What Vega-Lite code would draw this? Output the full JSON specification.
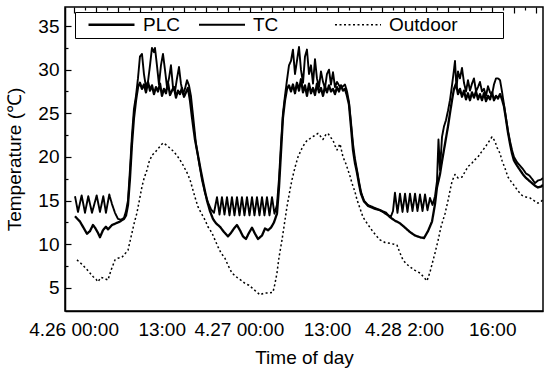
{
  "$schema": "https://vega.github.io/schema/vega-lite/v6.json",
  "width": 478,
  "height": 304,
  "autosize": {"type": "none"},
  "padding": {"left": 65, "top": 7, "right": 7, "bottom": 57},
  "background": "white",
  "config": {
    "font": "Liberation Sans",
    "view": {"stroke": "black", "strokeWidth": 1.5},
    "axis": {"domainColor": "black", "domainWidth": 1.5, "tickColor": "black", "labelColor": "black", "titleColor": "black", "labelFont": "Liberation Sans", "titleFont": "Liberation Sans", "labelFontSize": 19, "titleFontSize": 19, "titleFontWeight": "normal", "gridColor": "black", "gridWidth": 1.2, "gridOpacity": 1}
  },
  "data": {"values": [
    {"s":"PLC","t":0.21,"v":13.2},{"s":"PLC","t":0.94,"v":12.6},{"s":"PLC","t":1.53,"v":11.8},{"s":"PLC","t":1.97,"v":11.2},{"s":"PLC","t":2.41,"v":11.5},{"s":"PLC","t":2.85,"v":12.2},{"s":"PLC","t":3.15,"v":11.9},{"s":"PLC","t":3.59,"v":11.3},{"s":"PLC","t":3.88,"v":10.8},{"s":"PLC","t":4.32,"v":11.6},{"s":"PLC","t":4.76,"v":12.0},{"s":"PLC","t":5.06,"v":11.7},{"s":"PLC","t":5.65,"v":12.2},{"s":"PLC","t":6.24,"v":12.4},{"s":"PLC","t":6.82,"v":12.6},{"s":"PLC","t":7.41,"v":12.9},{"s":"PLC","t":7.71,"v":13.3},{"s":"PLC","t":8.0,"v":14.5},{"s":"PLC","t":8.29,"v":17.5},{"s":"PLC","t":8.59,"v":21.5},{"s":"PLC","t":8.88,"v":24.5},{"s":"PLC","t":9.18,"v":26.5},{"s":"PLC","t":9.47,"v":28.0},{"s":"PLC","t":9.76,"v":28.5},
    {"s":"PLC","t":10.06,"v":27.8},{"s":"PLC","t":10.35,"v":28.3},{"s":"PLC","t":10.65,"v":27.4},{"s":"PLC","t":10.94,"v":28.6},{"s":"PLC","t":11.24,"v":27.6},{"s":"PLC","t":11.53,"v":28.2},{"s":"PLC","t":11.82,"v":27.2},{"s":"PLC","t":12.12,"v":28.0},{"s":"PLC","t":12.41,"v":27.5},{"s":"PLC","t":12.71,"v":28.4},{"s":"PLC","t":13.0,"v":27.0},{"s":"PLC","t":13.29,"v":27.8},{"s":"PLC","t":13.59,"v":27.3},{"s":"PLC","t":13.88,"v":28.5},{"s":"PLC","t":14.18,"v":27.1},{"s":"PLC","t":14.47,"v":27.6},{"s":"PLC","t":14.76,"v":28.0},{"s":"PLC","t":15.06,"v":26.8},{"s":"PLC","t":15.35,"v":27.6},{"s":"PLC","t":15.65,"v":27.2},{"s":"PLC","t":15.94,"v":27.9},{"s":"PLC","t":16.24,"v":26.9},{"s":"PLC","t":16.53,"v":27.4},{"s":"PLC","t":16.82,"v":27.9},{"s":"PLC","t":17.12,"v":26.5},{"s":"PLC","t":17.41,"v":24.6},{"s":"PLC","t":17.85,"v":22.0},{"s":"PLC","t":18.29,"v":20.2},{"s":"PLC","t":18.74,"v":18.3},{"s":"PLC","t":19.18,"v":16.6},{"s":"PLC","t":19.62,"v":15.0},{"s":"PLC","t":20.06,"v":13.8},{"s":"PLC","t":20.5,"v":12.9},{"s":"PLC","t":20.94,"v":12.4},
    {"s":"PLC","t":21.53,"v":12.0},{"s":"PLC","t":22.12,"v":11.4},{"s":"PLC","t":22.71,"v":10.9},{"s":"PLC","t":23.15,"v":11.3},{"s":"PLC","t":23.59,"v":11.8},{"s":"PLC","t":24.03,"v":12.2},{"s":"PLC","t":24.47,"v":11.6},{"s":"PLC","t":24.91,"v":10.9},{"s":"PLC","t":25.35,"v":10.6},{"s":"PLC","t":25.79,"v":11.3},{"s":"PLC","t":26.24,"v":11.9},{"s":"PLC","t":26.68,"v":11.2},{"s":"PLC","t":27.12,"v":10.6},{"s":"PLC","t":27.71,"v":11.0},{"s":"PLC","t":28.15,"v":11.8},{"s":"PLC","t":28.59,"v":11.6},{"s":"PLC","t":29.03,"v":11.9},{"s":"PLC","t":29.47,"v":12.5},{"s":"PLC","t":29.91,"v":13.5},{"s":"PLC","t":30.21,"v":16.5},{"s":"PLC","t":30.5,"v":20.5},{"s":"PLC","t":30.79,"v":24.5},{"s":"PLC","t":31.09,"v":26.5},{"s":"PLC","t":31.38,"v":27.8},{"s":"PLC","t":31.68,"v":28.2},
    {"s":"PLC","t":31.97,"v":27.5},{"s":"PLC","t":32.26,"v":28.3},{"s":"PLC","t":32.56,"v":27.3},{"s":"PLC","t":32.85,"v":28.5},{"s":"PLC","t":33.15,"v":27.6},{"s":"PLC","t":33.44,"v":28.9},{"s":"PLC","t":33.74,"v":27.4},{"s":"PLC","t":34.03,"v":28.2},{"s":"PLC","t":34.32,"v":27.0},{"s":"PLC","t":34.62,"v":28.4},{"s":"PLC","t":34.91,"v":27.3},{"s":"PLC","t":35.21,"v":27.9},{"s":"PLC","t":35.5,"v":27.1},{"s":"PLC","t":35.79,"v":28.4},{"s":"PLC","t":36.09,"v":27.4},{"s":"PLC","t":36.38,"v":27.9},{"s":"PLC","t":36.68,"v":27.0},{"s":"PLC","t":36.97,"v":28.1},{"s":"PLC","t":37.26,"v":27.4},{"s":"PLC","t":37.56,"v":28.2},{"s":"PLC","t":37.85,"v":27.5},{"s":"PLC","t":38.15,"v":27.8},{"s":"PLC","t":38.44,"v":27.2},{"s":"PLC","t":38.74,"v":28.0},{"s":"PLC","t":39.03,"v":27.5},{"s":"PLC","t":39.32,"v":28.2},{"s":"PLC","t":39.62,"v":27.6},{"s":"PLC","t":39.91,"v":27.8},{"s":"PLC","t":40.21,"v":27.0},{"s":"PLC","t":40.5,"v":26.0},{"s":"PLC","t":40.79,"v":23.5},{"s":"PLC","t":41.09,"v":20.8},{"s":"PLC","t":41.38,"v":19.3},{"s":"PLC","t":41.68,"v":18.2},{"s":"PLC","t":41.97,"v":16.9},{"s":"PLC","t":42.26,"v":15.8},{"s":"PLC","t":42.71,"v":14.9},{"s":"PLC","t":43.29,"v":14.4},{"s":"PLC","t":44.18,"v":14.1},{"s":"PLC","t":45.06,"v":13.9},{"s":"PLC","t":45.94,"v":13.6},{"s":"PLC","t":46.53,"v":13.1},{"s":"PLC","t":47.26,"v":12.7},{"s":"PLC","t":48.0,"v":12.4},{"s":"PLC","t":48.74,"v":11.9},{"s":"PLC","t":49.47,"v":11.4},{"s":"PLC","t":50.21,"v":11.0},{"s":"PLC","t":50.94,"v":10.8},{"s":"PLC","t":51.53,"v":10.7},{"s":"PLC","t":52.12,"v":11.5},{"s":"PLC","t":52.71,"v":12.6},{"s":"PLC","t":53.15,"v":14.6},{"s":"PLC","t":53.44,"v":16.5},{"s":"PLC","t":53.88,"v":18.0},{"s":"PLC","t":54.18,"v":19.5},{"s":"PLC","t":54.62,"v":21.5},{"s":"PLC","t":55.06,"v":23.5},{"s":"PLC","t":55.35,"v":25.0},{"s":"PLC","t":55.65,"v":26.5},{"s":"PLC","t":55.94,"v":27.8},{"s":"PLC","t":56.24,"v":28.4},
    {"s":"PLC","t":56.53,"v":27.2},{"s":"PLC","t":56.82,"v":27.8},{"s":"PLC","t":57.12,"v":26.9},{"s":"PLC","t":57.41,"v":27.6},{"s":"PLC","t":57.71,"v":26.6},{"s":"PLC","t":58.0,"v":27.3},{"s":"PLC","t":58.29,"v":26.5},{"s":"PLC","t":58.59,"v":27.4},{"s":"PLC","t":58.88,"v":26.8},{"s":"PLC","t":59.18,"v":27.5},{"s":"PLC","t":59.47,"v":26.6},{"s":"PLC","t":59.76,"v":27.2},{"s":"PLC","t":60.06,"v":26.5},{"s":"PLC","t":60.35,"v":27.3},{"s":"PLC","t":60.65,"v":26.4},{"s":"PLC","t":60.94,"v":27.0},{"s":"PLC","t":61.24,"v":26.6},{"s":"PLC","t":61.53,"v":27.4},{"s":"PLC","t":61.82,"v":26.5},{"s":"PLC","t":62.12,"v":27.0},{"s":"PLC","t":62.41,"v":26.7},{"s":"PLC","t":62.71,"v":27.2},{"s":"PLC","t":63.0,"v":26.6},{"s":"PLC","t":63.29,"v":25.8},{"s":"PLC","t":63.59,"v":24.3},{"s":"PLC","t":63.88,"v":22.8},{"s":"PLC","t":64.18,"v":21.5},{"s":"PLC","t":64.47,"v":20.4},{"s":"PLC","t":64.76,"v":19.6},{"s":"PLC","t":65.21,"v":19.0},{"s":"PLC","t":65.65,"v":18.5},{"s":"PLC","t":66.09,"v":18.0},{"s":"PLC","t":66.53,"v":17.6},{"s":"PLC","t":66.97,"v":17.3},{"s":"PLC","t":67.41,"v":17.0},{"s":"PLC","t":67.85,"v":16.7},{"s":"PLC","t":68.29,"v":16.5},{"s":"PLC","t":68.74,"v":16.6},{"s":"PLC","t":69.03,"v":16.8},

    {"s":"TC","t":0.21,"v":15.5},{"s":"TC","t":0.65,"v":13.7},{"s":"TC","t":1.19,"v":15.6},{"s":"TC","t":1.68,"v":13.6},{"s":"TC","t":2.16,"v":15.5},{"s":"TC","t":2.71,"v":13.6},{"s":"TC","t":3.4,"v":15.6},{"s":"TC","t":3.88,"v":13.7},{"s":"TC","t":4.37,"v":15.5},{"s":"TC","t":4.76,"v":13.6},{"s":"TC","t":5.25,"v":15.7},{"s":"TC","t":5.65,"v":14.6},{"s":"TC","t":6.09,"v":13.6},{"s":"TC","t":6.53,"v":12.9},{"s":"TC","t":6.97,"v":12.8},{"s":"TC","t":7.41,"v":13.0},{"s":"TC","t":7.71,"v":13.8},{"s":"TC","t":8.0,"v":15.0},{"s":"TC","t":8.29,"v":18.5},{"s":"TC","t":8.59,"v":22.5},{"s":"TC","t":8.88,"v":25.5},{"s":"TC","t":9.18,"v":27.0},
    {"s":"TC","t":9.47,"v":29.0},{"s":"TC","t":9.76,"v":31.5},{"s":"TC","t":10.06,"v":31.8},{"s":"TC","t":10.35,"v":29.5},{"s":"TC","t":10.65,"v":28.0},{"s":"TC","t":10.94,"v":28.6},{"s":"TC","t":11.24,"v":30.5},{"s":"TC","t":11.53,"v":32.5},{"s":"TC","t":11.82,"v":32.0},{"s":"TC","t":11.97,"v":32.5},{"s":"TC","t":12.26,"v":30.5},{"s":"TC","t":12.56,"v":28.3},{"s":"TC","t":12.85,"v":30.5},{"s":"TC","t":13.15,"v":31.8},{"s":"TC","t":13.44,"v":30.0},{"s":"TC","t":13.74,"v":28.0},{"s":"TC","t":14.03,"v":29.0},{"s":"TC","t":14.32,"v":30.5},{"s":"TC","t":14.62,"v":28.0},{"s":"TC","t":14.91,"v":27.5},{"s":"TC","t":15.21,"v":29.0},{"s":"TC","t":15.5,"v":30.3},{"s":"TC","t":15.79,"v":28.4},{"s":"TC","t":16.09,"v":27.2},{"s":"TC","t":16.38,"v":27.8},{"s":"TC","t":16.68,"v":28.8},{"s":"TC","t":16.97,"v":28.2},{"s":"TC","t":17.26,"v":27.0},{"s":"TC","t":17.56,"v":24.8},{"s":"TC","t":18.0,"v":21.5},{"s":"TC","t":18.44,"v":19.4},{"s":"TC","t":18.88,"v":17.4},{"s":"TC","t":19.32,"v":15.9},{"s":"TC","t":19.76,"v":14.8},{"s":"TC","t":20.21,"v":14.0},
    {"s":"TC","t":20.65,"v":13.6},{"s":"TC","t":21.09,"v":15.4},{"s":"TC","t":21.46,"v":13.4},{"s":"TC","t":21.82,"v":15.4},{"s":"TC","t":22.19,"v":13.4},{"s":"TC","t":22.56,"v":15.4},{"s":"TC","t":22.93,"v":13.3},{"s":"TC","t":23.29,"v":15.4},{"s":"TC","t":23.66,"v":13.3},{"s":"TC","t":24.03,"v":15.4},{"s":"TC","t":24.4,"v":13.3},{"s":"TC","t":24.76,"v":15.4},{"s":"TC","t":25.13,"v":13.3},{"s":"TC","t":25.5,"v":15.4},{"s":"TC","t":25.87,"v":13.3},{"s":"TC","t":26.24,"v":15.4},{"s":"TC","t":26.6,"v":13.3},{"s":"TC","t":26.97,"v":15.4},{"s":"TC","t":27.34,"v":13.3},{"s":"TC","t":27.71,"v":15.4},{"s":"TC","t":28.07,"v":13.3},{"s":"TC","t":28.44,"v":15.4},{"s":"TC","t":28.81,"v":13.3},{"s":"TC","t":29.18,"v":15.4},{"s":"TC","t":29.54,"v":13.5},{"s":"TC","t":29.91,"v":14.5},{"s":"TC","t":30.21,"v":17.5},{"s":"TC","t":30.5,"v":21.5},{"s":"TC","t":30.79,"v":25.0},{"s":"TC","t":31.09,"v":27.0},{"s":"TC","t":31.38,"v":28.8},{"s":"TC","t":31.68,"v":30.5},
    {"s":"TC","t":31.97,"v":31.0},{"s":"TC","t":32.26,"v":32.3},{"s":"TC","t":32.56,"v":29.5},{"s":"TC","t":32.85,"v":31.0},{"s":"TC","t":33.15,"v":32.6},{"s":"TC","t":33.44,"v":30.0},{"s":"TC","t":33.74,"v":28.5},{"s":"TC","t":34.03,"v":31.5},{"s":"TC","t":34.32,"v":32.3},{"s":"TC","t":34.62,"v":29.5},{"s":"TC","t":34.91,"v":30.5},{"s":"TC","t":35.21,"v":28.4},{"s":"TC","t":35.5,"v":31.2},{"s":"TC","t":35.79,"v":29.0},{"s":"TC","t":36.09,"v":28.0},{"s":"TC","t":36.38,"v":29.8},{"s":"TC","t":36.68,"v":28.6},{"s":"TC","t":36.97,"v":27.9},{"s":"TC","t":37.26,"v":29.5},{"s":"TC","t":37.56,"v":30.0},{"s":"TC","t":37.85,"v":28.3},{"s":"TC","t":38.15,"v":29.7},{"s":"TC","t":38.44,"v":28.0},{"s":"TC","t":38.74,"v":28.6},{"s":"TC","t":39.03,"v":28.2},{"s":"TC","t":39.32,"v":27.9},{"s":"TC","t":39.62,"v":28.1},{"s":"TC","t":39.91,"v":28.3},{"s":"TC","t":40.21,"v":27.5},{"s":"TC","t":40.5,"v":26.3},{"s":"TC","t":40.79,"v":24.0},{"s":"TC","t":41.09,"v":21.5},{"s":"TC","t":41.38,"v":19.8},{"s":"TC","t":41.68,"v":18.5},{"s":"TC","t":41.97,"v":17.2},{"s":"TC","t":42.26,"v":16.0},{"s":"TC","t":42.71,"v":15.0},{"s":"TC","t":43.29,"v":14.5},{"s":"TC","t":44.18,"v":14.2},{"s":"TC","t":45.06,"v":13.9},{"s":"TC","t":45.65,"v":13.6},{"s":"TC","t":46.24,"v":13.3},{"s":"TC","t":46.68,"v":13.2},
    {"s":"TC","t":46.97,"v":13.8},{"s":"TC","t":47.26,"v":15.9},{"s":"TC","t":47.63,"v":13.6},{"s":"TC","t":48.0,"v":15.8},{"s":"TC","t":48.37,"v":13.7},{"s":"TC","t":48.74,"v":15.8},{"s":"TC","t":49.1,"v":13.7},{"s":"TC","t":49.47,"v":15.8},{"s":"TC","t":49.84,"v":13.8},{"s":"TC","t":50.21,"v":15.8},{"s":"TC","t":50.57,"v":13.8},{"s":"TC","t":50.94,"v":15.7},{"s":"TC","t":51.31,"v":13.8},{"s":"TC","t":51.68,"v":15.7},{"s":"TC","t":52.04,"v":13.9},{"s":"TC","t":52.41,"v":15.3},{"s":"TC","t":52.78,"v":14.5},{"s":"TC","t":53.15,"v":15.5},{"s":"TC","t":53.44,"v":17.2},{"s":"TC","t":53.66,"v":22.0},{"s":"TC","t":53.88,"v":18.5},{"s":"TC","t":54.18,"v":22.3},{"s":"TC","t":54.47,"v":23.5},{"s":"TC","t":54.76,"v":24.2},{"s":"TC","t":55.06,"v":25.3},{"s":"TC","t":55.35,"v":26.5},{"s":"TC","t":55.65,"v":28.2},{"s":"TC","t":55.94,"v":30.0},{"s":"TC","t":56.09,"v":31.0},{"s":"TC","t":56.31,"v":27.8},{"s":"TC","t":56.53,"v":29.8},{"s":"TC","t":56.82,"v":29.0},{"s":"TC","t":57.12,"v":30.2},{"s":"TC","t":57.41,"v":28.5},{"s":"TC","t":57.71,"v":27.5},{"s":"TC","t":58.0,"v":28.8},{"s":"TC","t":58.29,"v":27.6},{"s":"TC","t":58.59,"v":28.4},{"s":"TC","t":58.88,"v":29.0},{"s":"TC","t":59.18,"v":27.5},{"s":"TC","t":59.47,"v":28.0},{"s":"TC","t":59.76,"v":28.6},{"s":"TC","t":60.06,"v":27.5},{"s":"TC","t":60.35,"v":27.8},{"s":"TC","t":60.65,"v":27.0},{"s":"TC","t":60.94,"v":28.1},{"s":"TC","t":61.24,"v":27.4},{"s":"TC","t":61.53,"v":27.1},{"s":"TC","t":61.82,"v":28.3},{"s":"TC","t":62.12,"v":29.0},{"s":"TC","t":62.41,"v":29.0},{"s":"TC","t":62.71,"v":28.8},{"s":"TC","t":63.0,"v":27.5},{"s":"TC","t":63.29,"v":26.0},{"s":"TC","t":63.59,"v":24.5},{"s":"TC","t":63.88,"v":23.0},{"s":"TC","t":64.18,"v":21.8},{"s":"TC","t":64.47,"v":20.8},{"s":"TC","t":64.76,"v":20.0},{"s":"TC","t":65.21,"v":19.4},{"s":"TC","t":65.65,"v":19.0},{"s":"TC","t":66.09,"v":18.6},{"s":"TC","t":66.53,"v":18.1},{"s":"TC","t":66.97,"v":17.9},{"s":"TC","t":67.41,"v":17.5},{"s":"TC","t":67.85,"v":17.0},{"s":"TC","t":68.29,"v":17.3},{"s":"TC","t":68.74,"v":17.4},{"s":"TC","t":69.03,"v":17.6},

    {"s":"Outdoor","t":0.5,"v":8.2},{"s":"Outdoor","t":1.24,"v":7.7},{"s":"Outdoor","t":1.97,"v":7.1},{"s":"Outdoor","t":2.41,"v":6.7},{"s":"Outdoor","t":2.85,"v":6.3},{"s":"Outdoor","t":3.29,"v":6.0},{"s":"Outdoor","t":3.59,"v":5.7},{"s":"Outdoor","t":4.03,"v":6.2},{"s":"Outdoor","t":4.47,"v":6.1},{"s":"Outdoor","t":5.06,"v":5.9},{"s":"Outdoor","t":5.5,"v":7.0},{"s":"Outdoor","t":6.09,"v":8.2},{"s":"Outdoor","t":6.53,"v":8.4},{"s":"Outdoor","t":7.12,"v":8.5},{"s":"Outdoor","t":7.56,"v":8.9},{"s":"Outdoor","t":8.0,"v":9.3},{"s":"Outdoor","t":8.29,"v":10.3},{"s":"Outdoor","t":8.59,"v":11.3},{"s":"Outdoor","t":8.88,"v":12.3},{"s":"Outdoor","t":9.32,"v":13.6},{"s":"Outdoor","t":9.62,"v":14.8},{"s":"Outdoor","t":10.06,"v":16.6},{"s":"Outdoor","t":10.35,"v":17.5},{"s":"Outdoor","t":10.79,"v":18.5},{"s":"Outdoor","t":11.09,"v":19.4},{"s":"Outdoor","t":11.53,"v":20.2},{"s":"Outdoor","t":11.97,"v":20.5},{"s":"Outdoor","t":12.26,"v":20.8},{"s":"Outdoor","t":12.71,"v":21.2},{"s":"Outdoor","t":13.15,"v":21.6},{"s":"Outdoor","t":13.59,"v":21.4},{"s":"Outdoor","t":14.18,"v":21.0},{"s":"Outdoor","t":14.76,"v":20.6},{"s":"Outdoor","t":15.35,"v":20.0},{"s":"Outdoor","t":15.94,"v":19.3},{"s":"Outdoor","t":16.68,"v":18.2},{"s":"Outdoor","t":17.12,"v":17.4},{"s":"Outdoor","t":17.41,"v":16.6},{"s":"Outdoor","t":17.85,"v":15.4},{"s":"Outdoor","t":18.29,"v":14.3},{"s":"Outdoor","t":18.74,"v":13.6},{"s":"Outdoor","t":19.32,"v":12.8},{"s":"Outdoor","t":19.76,"v":12.0},{"s":"Outdoor","t":20.35,"v":11.3},{"s":"Outdoor","t":20.79,"v":10.5},{"s":"Outdoor","t":21.24,"v":9.7},{"s":"Outdoor","t":21.68,"v":9.0},{"s":"Outdoor","t":22.26,"v":8.4},{"s":"Outdoor","t":22.71,"v":7.6},{"s":"Outdoor","t":23.29,"v":6.7},{"s":"Outdoor","t":23.74,"v":6.4},{"s":"Outdoor","t":24.18,"v":6.1},{"s":"Outdoor","t":24.76,"v":5.8},{"s":"Outdoor","t":25.21,"v":5.5},{"s":"Outdoor","t":25.79,"v":5.3},{"s":"Outdoor","t":26.24,"v":5.0},{"s":"Outdoor","t":26.82,"v":4.6},{"s":"Outdoor","t":27.41,"v":4.2},{"s":"Outdoor","t":28.0,"v":4.4},{"s":"Outdoor","t":28.59,"v":4.4},{"s":"Outdoor","t":29.32,"v":4.5},{"s":"Outdoor","t":29.62,"v":5.5},{"s":"Outdoor","t":29.91,"v":6.7},{"s":"Outdoor","t":30.21,"v":8.5},{"s":"Outdoor","t":30.65,"v":10.5},{"s":"Outdoor","t":30.94,"v":12.0},{"s":"Outdoor","t":31.38,"v":14.3},{"s":"Outdoor","t":31.82,"v":16.2},{"s":"Outdoor","t":32.12,"v":17.4},{"s":"Outdoor","t":32.56,"v":18.8},{"s":"Outdoor","t":33.0,"v":20.0},{"s":"Outdoor","t":33.59,"v":21.0},{"s":"Outdoor","t":34.03,"v":21.6},{"s":"Outdoor","t":34.47,"v":22.0},{"s":"Outdoor","t":34.76,"v":22.1},{"s":"Outdoor","t":35.35,"v":22.4},{"s":"Outdoor","t":35.94,"v":22.7},{"s":"Outdoor","t":36.38,"v":22.3},{"s":"Outdoor","t":36.68,"v":22.0},{"s":"Outdoor","t":37.12,"v":22.6},{"s":"Outdoor","t":37.41,"v":22.7},{"s":"Outdoor","t":37.85,"v":22.2},{"s":"Outdoor","t":38.15,"v":21.9},{"s":"Outdoor","t":38.44,"v":21.3},{"s":"Outdoor","t":38.74,"v":20.8},{"s":"Outdoor","t":39.18,"v":21.5},{"s":"Outdoor","t":39.62,"v":20.0},{"s":"Outdoor","t":40.06,"v":19.2},{"s":"Outdoor","t":40.35,"v":18.5},{"s":"Outdoor","t":40.65,"v":17.8},{"s":"Outdoor","t":40.94,"v":17.0},{"s":"Outdoor","t":41.38,"v":16.0},{"s":"Outdoor","t":41.68,"v":15.1},{"s":"Outdoor","t":42.12,"v":14.1},{"s":"Outdoor","t":42.56,"v":13.1},{"s":"Outdoor","t":43.15,"v":12.4},{"s":"Outdoor","t":43.88,"v":11.6},{"s":"Outdoor","t":44.47,"v":11.0},{"s":"Outdoor","t":45.06,"v":10.5},{"s":"Outdoor","t":45.79,"v":10.2},{"s":"Outdoor","t":46.53,"v":10.1},{"s":"Outdoor","t":47.12,"v":10.0},{"s":"Outdoor","t":47.56,"v":9.9},{"s":"Outdoor","t":48.0,"v":9.0},{"s":"Outdoor","t":48.44,"v":8.2},{"s":"Outdoor","t":48.88,"v":7.8},{"s":"Outdoor","t":49.47,"v":7.4},{"s":"Outdoor","t":50.21,"v":7.0},{"s":"Outdoor","t":50.94,"v":6.7},{"s":"Outdoor","t":51.53,"v":6.2},{"s":"Outdoor","t":51.97,"v":5.8},{"s":"Outdoor","t":52.41,"v":6.8},{"s":"Outdoor","t":52.71,"v":7.7},{"s":"Outdoor","t":53.15,"v":9.0},{"s":"Outdoor","t":53.59,"v":10.4},{"s":"Outdoor","t":54.03,"v":12.0},{"s":"Outdoor","t":54.62,"v":13.5},{"s":"Outdoor","t":55.06,"v":15.0},{"s":"Outdoor","t":55.35,"v":16.1},{"s":"Outdoor","t":55.65,"v":17.2},{"s":"Outdoor","t":56.09,"v":18.0},{"s":"Outdoor","t":56.53,"v":17.6},{"s":"Outdoor","t":57.12,"v":17.7},{"s":"Outdoor","t":57.56,"v":18.3},{"s":"Outdoor","t":58.0,"v":18.9},{"s":"Outdoor","t":58.59,"v":19.3},{"s":"Outdoor","t":59.03,"v":19.7},{"s":"Outdoor","t":59.47,"v":20.0},{"s":"Outdoor","t":59.91,"v":20.5},{"s":"Outdoor","t":60.5,"v":21.1},{"s":"Outdoor","t":60.94,"v":21.6},{"s":"Outdoor","t":61.53,"v":22.3},{"s":"Outdoor","t":61.97,"v":21.8},{"s":"Outdoor","t":62.26,"v":21.1},{"s":"Outdoor","t":62.71,"v":20.4},{"s":"Outdoor","t":63.0,"v":19.6},{"s":"Outdoor","t":63.44,"v":18.7},{"s":"Outdoor","t":63.88,"v":17.7},{"s":"Outdoor","t":64.32,"v":17.2},{"s":"Outdoor","t":64.91,"v":16.6},{"s":"Outdoor","t":65.35,"v":16.1},{"s":"Outdoor","t":65.94,"v":15.6},{"s":"Outdoor","t":66.53,"v":15.4},{"s":"Outdoor","t":67.12,"v":15.3},{"s":"Outdoor","t":67.71,"v":15.0},{"s":"Outdoor","t":68.29,"v":14.7},{"s":"Outdoor","t":68.74,"v":14.9},{"s":"Outdoor","t":69.03,"v":15.1}
  ]},
  "mark": {"type": "line", "clip": true, "strokeJoin": "round"},
  "encoding": {
    "x": {
      "field": "t", "type": "quantitative",
      "scale": {"domain": [-1.26, 69.03], "nice": false, "zero": false},
      "axis": {
        "orient": "bottom",
        "title": "Time of day", "titlePadding": 9,
        "values": [0,1.62,3.24,4.86,6.48,8.1,9.72,11.34,12.96,14.58,16.2,17.82,19.44,21.06,22.68,24.3,25.92,27.54,29.16,30.78,32.4,34.02,35.64,37.26,38.88,40.5,42.12,43.74,45.36,46.98,48.6,50.22,51.84,53.46,55.08,56.7,58.32,59.94,61.56,63.18,64.8,66.42,68.04],
        "labelExpr": "round(datum.value/1.62)==0 ? '4.26 00:00' : round(datum.value/1.62)==8 ? '13:00' : round(datum.value/1.62)==15 ? '4.27 00:00' : round(datum.value/1.62)==23 ? '13:00' : round(datum.value/1.62)==30 ? '4.28 2:00' : round(datum.value/1.62)==38 ? '16:00' : ''",
        "labelOverlap": false, "labelFlush": false,
        "ticks": false,
        "labelPadding": 9,
        "grid": true,
        "gridDash": {"condition": {"test": "round(datum.value/1.62) % 2 == 0", "value": [6, 1000]}, "value": [3, 1000]}
      }
    },
    "y": {
      "field": "v", "type": "quantitative",
      "scale": {"domain": [2.35, 37.18], "nice": false, "zero": false},
      "axis": {
        "orient": "left",
        "title": "Temperature (℃)", "titlePadding": 13,
        "values": [5,7.5,10,12.5,15,17.5,20,22.5,25,27.5,30,32.5,35],
        "labelExpr": "datum.value % 5 == 0 ? datum.label : ''",
        "labelOverlap": false,
        "ticks": false,
        "labelPadding": 6,
        "grid": true,
        "gridDash": {"condition": {"test": "datum.value % 5 == 0", "value": [6, 1000]}, "value": [3, 1000]}
      }
    },
    "color": {
      "field": "s", "type": "nominal", "title": null,
      "scale": {"domain": ["PLC", "TC", "Outdoor"], "range": ["black", "black", "black"]},
      "legend": {
        "orient": "none", "legendX": 10, "legendY": 5, "direction": "horizontal",
        "strokeColor": "black", "fillColor": "white", "padding": 3,
        "symbolType": "stroke", "symbolSize": 2116, "symbolOffset": 9, "clipHeight": 19,
        "labelFontSize": 19, "labelFont": "Liberation Sans", "labelColor": "black",
        "labelOffset": 7, "columnPadding": 9,
        "labelExpr": "datum.label == 'TC' ? 'TC\u00a0\u00a0\u00a0\u00a0\u00a0\u00a0\u00a0\u200b' : datum.label == 'Outdoor' ? 'Outdoor\u00a0\u00a0\u00a0\u00a0\u00a0\u00a0\u00a0\u00a0\u200b' : datum.label"
      }
    },
    "strokeDash": {
      "field": "s", "type": "nominal", "title": null,
      "scale": {"domain": ["PLC", "TC", "Outdoor"], "range": [[1, 0], [1, 0], [2, 2.5]]}
    },
    "strokeWidth": {
      "field": "s", "type": "nominal", "title": null,
      "scale": {"domain": ["PLC", "TC", "Outdoor"], "range": [2.3, 1.5, 1.5]}
    },
    "order": {"field": "t"}
  }
}
